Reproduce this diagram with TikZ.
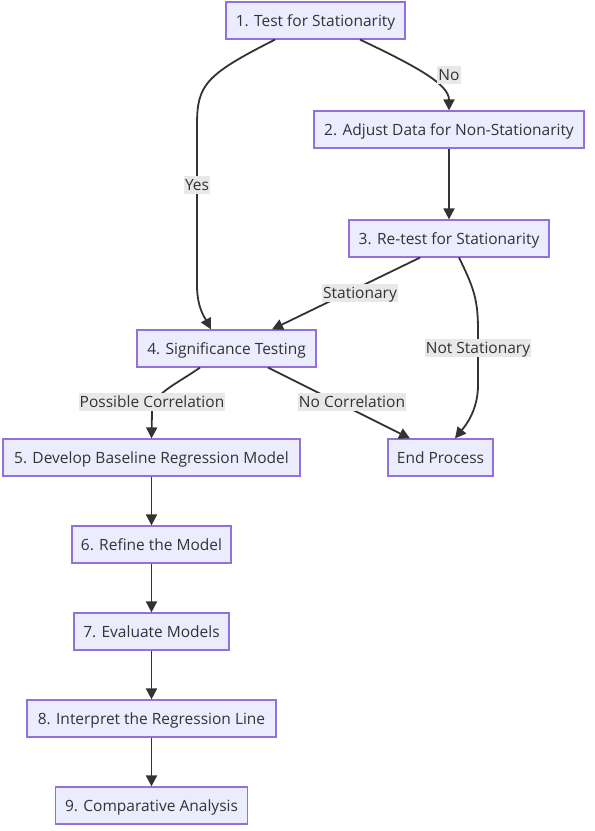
\documentclass[tikz,border=0pt]{standalone}
\usepackage{fontspec}
\setmainfont{Open Sans}
\usetikzlibrary{arrows.meta}
\definecolor{nodefill}{HTML}{ECECFF}
\definecolor{nodeborder}{HTML}{9370DB}
\definecolor{linec}{HTML}{333333}
\definecolor{lblbg}{HTML}{E8E8E8}
\tikzset{
  box/.style={draw=nodeborder, fill=nodefill, line width=1.2pt, minimum height=37pt, inner sep=0pt, text height=11.5pt, text depth=0.5pt, text=linec, font=\fontsize{15.5}{17}\selectfont},
  conn/.style={draw=linec, line width=1.8pt, -{Triangle[length=11pt,width=11pt]}},
  lbl/.style={fill=lblbg, text=linec, inner xsep=1pt, inner ysep=2.5pt, text height=11.5pt, text depth=1.5pt, font=\fontsize{15.5}{17}\selectfont}
}
\begin{document}
\begin{tikzpicture}[x=1pt,y=-1pt]
\useasboundingbox (0,0) rectangle (595,831);
\node[box, minimum width=179pt] (n1) at (315.5,20.5) {1. Test for Stationarity};
\node[box, minimum width=270pt] (n2) at (449,129.5) {2. Adjust Data for Non-Stationarity};
\node[box, minimum width=200pt] (n3) at (449,238.5) {3. Re-test for Stationarity};
\node[box, minimum width=179pt] (n4) at (226.5,348.5) {4. Significance Testing};
\node[box, minimum width=297pt] (n5) at (151.5,457.5) {5. Develop Baseline Regression Model};
\node[box, minimum width=105pt] (ne) at (440.5,457.5) {End Process};
\node[box, minimum width=159pt] (n6) at (151.5,544.5) {6. Refine the Model};
\node[box, minimum width=155pt] (n7) at (151.5,631.5) {7. Evaluate Models};
\node[box, minimum width=249pt] (n8) at (151.5,718.5) {8. Interpret the Regression Line};
\node[box, minimum width=192pt] (n9) at (151.5,805.5) {9. Comparative Analysis};

% 1 -> 2 (No)
\draw[conn] ([xshift=44.5pt]n1.south) .. controls (420,68) and (449,85) .. (n2.north);
\node[lbl] (lno) at (449,75) {No};
% 1 -> 4 (Yes)
\draw[conn] ([xshift=-40.5pt]n1.south) .. controls (205,75) and (197,85) .. (197,125) -- (197,285) .. controls (197,308) and (205,318) .. ([xshift=-15.5pt]n4.north);
\node[lbl] (lyes) at (197,185) {Yes};
% 2 -> 3
\draw[conn] (n2.south) -- (n3.north);
% 3 -> 4 (Stationary)
\draw[conn] ([xshift=-29pt]n3.south) -- ([xshift=45.5pt]n4.north);
\node[lbl] (lst) at (360,293) {Stationary};
% 3 -> End (Not Stationary)
\draw[conn] ([xshift=10pt]n3.south) .. controls (474,288) and (478,300) .. (478,330) -- (478,385) .. controls (478,410) and (466,425) .. ([xshift=14.5pt]ne.north);
\node[lbl] (lns) at (478,348) {Not Stationary};
% 4 -> 5 (Possible Correlation)
\draw[conn] ([xshift=-26.5pt]n4.south) .. controls (175,385) and (152,394) .. (152,412) -- (n5.north);
\node[lbl] (lpc) at (152,402) {Possible Correlation};
% 4 -> End (No Correlation)
\draw[conn] ([xshift=41.5pt]n4.south) -- ([xshift=-30.5pt]ne.north);
\node[lbl] (lnc) at (352,402) {No Correlation};
% chain
\draw[conn] (n5.south) -- (n6.north);
\draw[conn] (n6.south) -- (n7.north);
\draw[conn] (n7.south) -- (n8.north);
\draw[conn] (n8.south) -- (n9.north);
\end{tikzpicture}
\end{document}
